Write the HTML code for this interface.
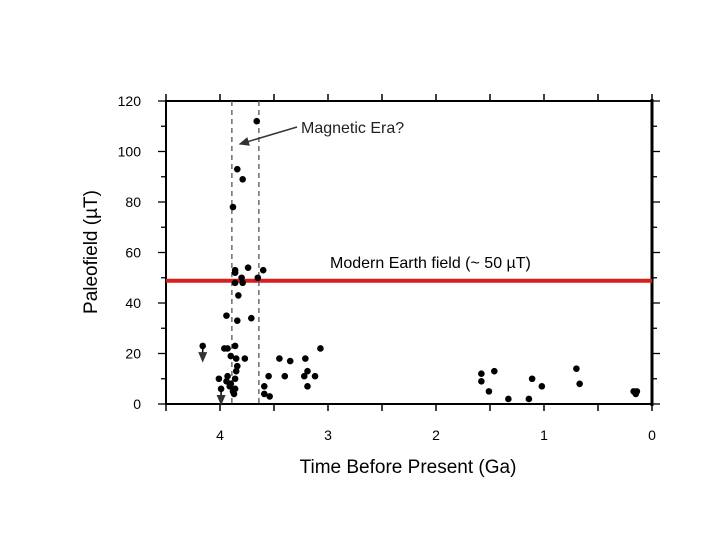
<!DOCTYPE html>
<html><head><meta charset="utf-8"><style>
body{margin:0;background:#fff}
svg text{font-family:"Liberation Sans",sans-serif}
</style></head><body>
<svg id="chart" width="720" height="540" xmlns="http://www.w3.org/2000/svg"></svg>
<script>
const xVals=[3.66,3.84,3.79,3.88,3.86,3.74,3.60,3.86,3.80,3.65,3.86,3.79,3.83,3.94,3.84,3.71,4.16,3.96,3.93,3.86,3.90,3.85,3.77,3.84,3.85,4.01,3.93,3.86,3.94,3.90,3.91,3.86,3.88,3.99,3.87,3.45,3.35,3.21,3.07,3.55,3.40,3.22,3.12,3.19,3.19,3.59,3.59,3.54,1.58,1.58,1.46,1.51,1.33,1.14,1.11,1.02,0.70,0.67,0.17,0.14,0.15];
const yVals=[112,93,89,78,53,54,53,52,50,50,48,48,43,35,33,34,23,22,22,23,19,18,18,15,13,10,11,10,9,8,7,6,5,6,4,18,17,18,22,11,11,11,11,13,7,7,4,3,12,9,13,5,2,2,10,7,14,8,5,5,4];
const arrowX=[4.16,3.99];
const arrowFrom=[23,6];
const arrowTo=[17,0];
const xTicks=[4,3,2,1,0];
const yTicks=[0,20,40,60,80,100,120];
const modernField=[48.8];
const eraBounds=[3.89,3.64];

const svg=document.getElementById('chart');
const NS='http://www.w3.org/2000/svg';
const L=166,R=652,T=101,B=404;
const X=v=>R-(v/4.5)*(R-L);
const Y=v=>B-(v/120)*(B-T);
function mk(tag,attrs,parent){const e=document.createElementNS(NS,tag);for(const k in attrs)e.setAttribute(k,attrs[k]);(parent||svg).appendChild(e);return e;}

const defs=mk('defs',{});
const mkr=mk('marker',{id:'ah',markerWidth:8,markerHeight:8,refX:6,refY:4,orient:'auto'},defs);
mk('path',{d:'M0,1 L7,4 L0,7 Z',fill:'#333'},mkr);

// ticks
for(let v=0;v<=4.5001;v+=0.5){
  const x=X(v);
  const t1=mk('line',{x1:x,x2:x,y1:B,y2:B+7,stroke:'#000','stroke-width':1.5});
  
  const t2=mk('line',{x1:x,x2:x,y1:T,y2:T-7,stroke:'#000','stroke-width':1.5});
  
}
for(let v=0;v<=120;v+=10){
  const y=Y(v);const len=v%20===0?8:5;
  const t=mk('line',{x1:L,x2:L-len,y1:y,y2:y,stroke:'#000','stroke-width':1.3});
  
  const t2=mk('line',{x1:R,x2:R+len,y1:y,y2:y,stroke:'#000','stroke-width':1.3});
  
}
xTicks.forEach(v=>{
  const t=mk('text',{x:X(v),y:440,'text-anchor':'middle','font-size':14});t.textContent=v;
  
});
yTicks.forEach(v=>{
  const t=mk('text',{x:141,y:Y(v)+5,'text-anchor':'end','font-size':14});t.textContent=v;
  
});

// frame
const fr=mk('rect',{x:L,y:T,width:R-L,height:B-T,fill:'none',stroke:'#000','stroke-width':2});

mk('line',{x1:R,x2:R,y1:T-2,y2:B+2,stroke:'#000','stroke-width':3});

// era lines
eraBounds.forEach(v=>{
  const l=mk('line',{x1:X(v),x2:X(v),y1:T,y2:B,stroke:'#555','stroke-width':1.3,'stroke-dasharray':'5,4'});
  
});

// red line
const rl=mk('line',{x1:L,x2:R,y1:Y(modernField[0]),y2:Y(modernField[0]),stroke:'#d42020','stroke-width':4});


// points
xVals.forEach((xv,i)=>{
  const c=mk('circle',{cx:X(xv),cy:Y(yVals[i]),r:3.3,fill:'#000'});
  
});
arrowX.forEach((xv,i)=>{
  const a=mk('line',{x1:X(xv),x2:X(xv),y1:Y(arrowFrom[i]),y2:Y(arrowTo[i]),stroke:'#000','stroke-width':1.5,'marker-end':'url(#ah)'});
  
});

// annotations
const an=mk('line',{x1:297,y1:127,x2:240,y2:144,stroke:'#333','stroke-width':1.5,'marker-end':'url(#ah)'});

const at=mk('text',{x:301,y:133,'font-size':16,fill:'#222'});at.textContent='Magnetic Era?';

const mt=mk('text',{x:330,y:268,'font-size':16});mt.textContent='Modern Earth field (~ 50 µT)';

const xt=mk('text',{x:408,y:473,'text-anchor':'middle','font-size':19});xt.textContent='Time Before Present (Ga)';

const yt=mk('text',{x:0,y:0,'text-anchor':'middle','font-size':19,transform:'translate(97,252) rotate(-90)'});yt.textContent='Paleofield (µT)';

</script>
</body></html>
